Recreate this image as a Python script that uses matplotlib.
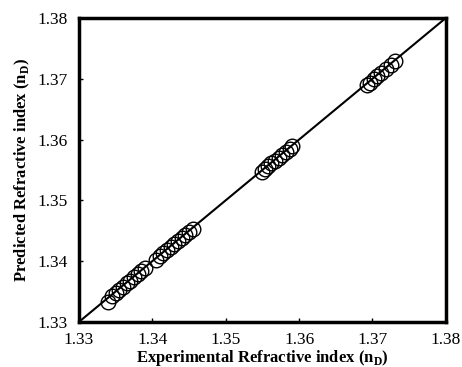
import matplotlib
matplotlib.use("Agg")
import matplotlib.pyplot as plt

exp_x = [1.3340, 1.3345, 1.3350, 1.3355, 1.3360, 1.3365, 1.3370, 1.3375, 1.3380, 1.3385, 1.3390,
         1.3405, 1.3410, 1.3415, 1.3420, 1.3425, 1.3430, 1.3435, 1.3440, 1.3445, 1.3450, 1.3455,
         1.3550, 1.3553, 1.3558, 1.3562, 1.3567, 1.3572, 1.3577, 1.3582, 1.3587, 1.3591,
         1.3693, 1.3697, 1.3702, 1.3706, 1.3712, 1.3718, 1.3725, 1.3731]
pred_y = [1.3333, 1.3342, 1.3348, 1.3353, 1.3358, 1.3364, 1.3368, 1.3374, 1.3378, 1.3384, 1.3388,
          1.3402, 1.3408, 1.3413, 1.3418, 1.3423, 1.3428, 1.3433, 1.3438, 1.3443, 1.3448, 1.3452,
          1.3547, 1.3551, 1.3556, 1.3561, 1.3565, 1.3570, 1.3575, 1.3580, 1.3585, 1.3590,
          1.3690, 1.3693, 1.3700, 1.3704, 1.3710, 1.3716, 1.3723, 1.3730]
line_xy = [1.33, 1.38]
ticks = [1.33, 1.34, 1.35, 1.36, 1.37, 1.38]

plt.rcParams['font.family'] = ['Liberation Serif', 'DejaVu Serif']

fig = plt.figure(figsize=(4.62, 3.67), dpi=100)
ax = fig.add_axes([0.171, 0.123, 0.794, 0.828])
ax.plot(line_xy, line_xy, color='black', lw=1.5, zorder=1)
ax.plot(exp_x, pred_y, linestyle='none', marker='o', markersize=10.5,
        markerfacecolor='none', markeredgecolor='black', markeredgewidth=1.0, zorder=2)
ax.set_xlim(1.33, 1.38)
ax.set_ylim(1.33, 1.38)
ax.set_xticks(ticks)
ax.set_yticks(ticks)
ax.set_xticklabels([f"{t:.2f}" for t in ticks])
ax.set_yticklabels([f"{t:.2f}" for t in ticks])
ax.tick_params(axis='x', direction='in', length=3, width=1, labelsize=12.5, pad=7)
ax.tick_params(axis='y', direction='in', length=3, width=1, labelsize=12.5, pad=8)
for s in ax.spines.values():
    s.set_linewidth(2.5)
ax.set_xlabel(r'Experimental Refractive index (n$_\mathregular{D}$)', fontsize=12, fontweight='bold', labelpad=0)
ax.set_ylabel(r'Predicted Refractive index (n$_\mathregular{D}$)', fontsize=12, fontweight='bold', labelpad=4)
fig.savefig('out.png', dpi=100)
